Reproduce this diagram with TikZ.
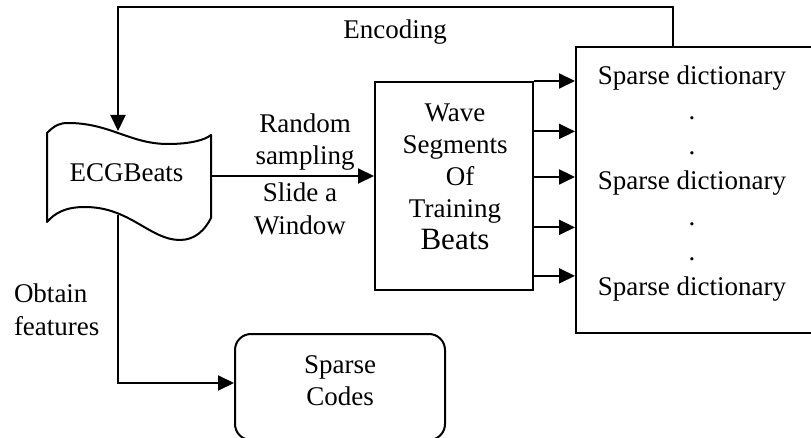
\documentclass[tikz,border=0pt]{standalone}
\usepackage{fontspec}
\setmainfont{Liberation Serif}
\usetikzlibrary{arrows.meta,calc}
\begin{document}
\begin{tikzpicture}[x=1pt,y=-1pt,
  line width=2pt,
  >={Triangle[length=16pt,width=15pt]},
  txt/.style={inner sep=0pt, font=\fontsize{27}{32}\selectfont, align=center},
  box/.style={draw, line width=2pt, inner sep=0pt},
  arr/.style={->, line width=2pt}]
\useasboundingbox (0,0) rectangle (811,438);

% ECGBeats tape shape
\draw[line width=2pt, line join=round]
  (47,133) .. controls (55,125) and (60,123) .. (68,123)
  .. controls (110,123) and (130,144) .. (168,144)
  .. controls (190,144) and (205,140) .. (211,135)
  -- (211,218)
  .. controls (205,230) and (195,240) .. (180,240)
  .. controls (150,240) and (130,207) .. (85,207)
  .. controls (65,207) and (55,213) .. (47,222) -- cycle;
\node[txt, minimum width=169pt] (ecg) at (126.5,173) {ECGBeats};
\coordinate (ecgtop) at (118,131);
\coordinate (ecgbot) at (118,215);

% boxes
\node[box, minimum width=158pt, minimum height=208pt] (wave) at (454,186) {};
\node[box, minimum width=240pt, minimum height=286pt] (dict) at (696,190) {};
\node[box, rounded corners=16pt, minimum width=210pt, minimum height=106pt] (codes) at (340,387) {};

% texts
\node[txt, anchor=north] (wavetext) at (455,103)
  {Wave\\Segments\\\hspace*{10pt}Of\\Training\\{\fontsize{31}{32}\selectfont Beats}};
\node[txt, font=\fontsize{27}{35.2}\selectfont, anchor=north] (dicttext) at (692,64.5)
  {Sparse dictionary\\.\\.\\Sparse dictionary\\.\\.\\Sparse dictionary};
\node[txt, anchor=north] (codestext) at (340,355) {Sparse\\Codes};
\node[txt, anchor=north] (rs) at (305,113) {Random\\sampling};
\node[txt, font=\fontsize{27}{32.5}\selectfont, anchor=north] (sw) at (300,182) {Slide a\\Window};
\node[txt, anchor=base] (enc) at (395,39) {Encoding};
\node[txt, align=left, font=\fontsize{27}{32.5}\selectfont, anchor=north west] (obt) at (13,283) {Obtain\\features};

% connectors
\draw[arr] ([yshift=-3pt]ecg.east) -- ([yshift=-3pt]ecg.east -| wave.west);
\foreach \f [count=\i] in {0,0.24,0.457,0.697,0.928} {
  \coordinate (s\i) at ($(wave.north east)!\f!(wave.south east)$);
  \draw[arr] (s\i) -- (s\i -| dict.west);
}
\coordinate (encx) at (673,0);
\coordinate (enctap) at (dict.north -| encx);
\draw[arr] (enctap) -- ++(0,-39) -| (ecgtop);
\draw[arr] (ecgbot) |- ([yshift=4pt]codes.west);
\end{tikzpicture}
\end{document}
